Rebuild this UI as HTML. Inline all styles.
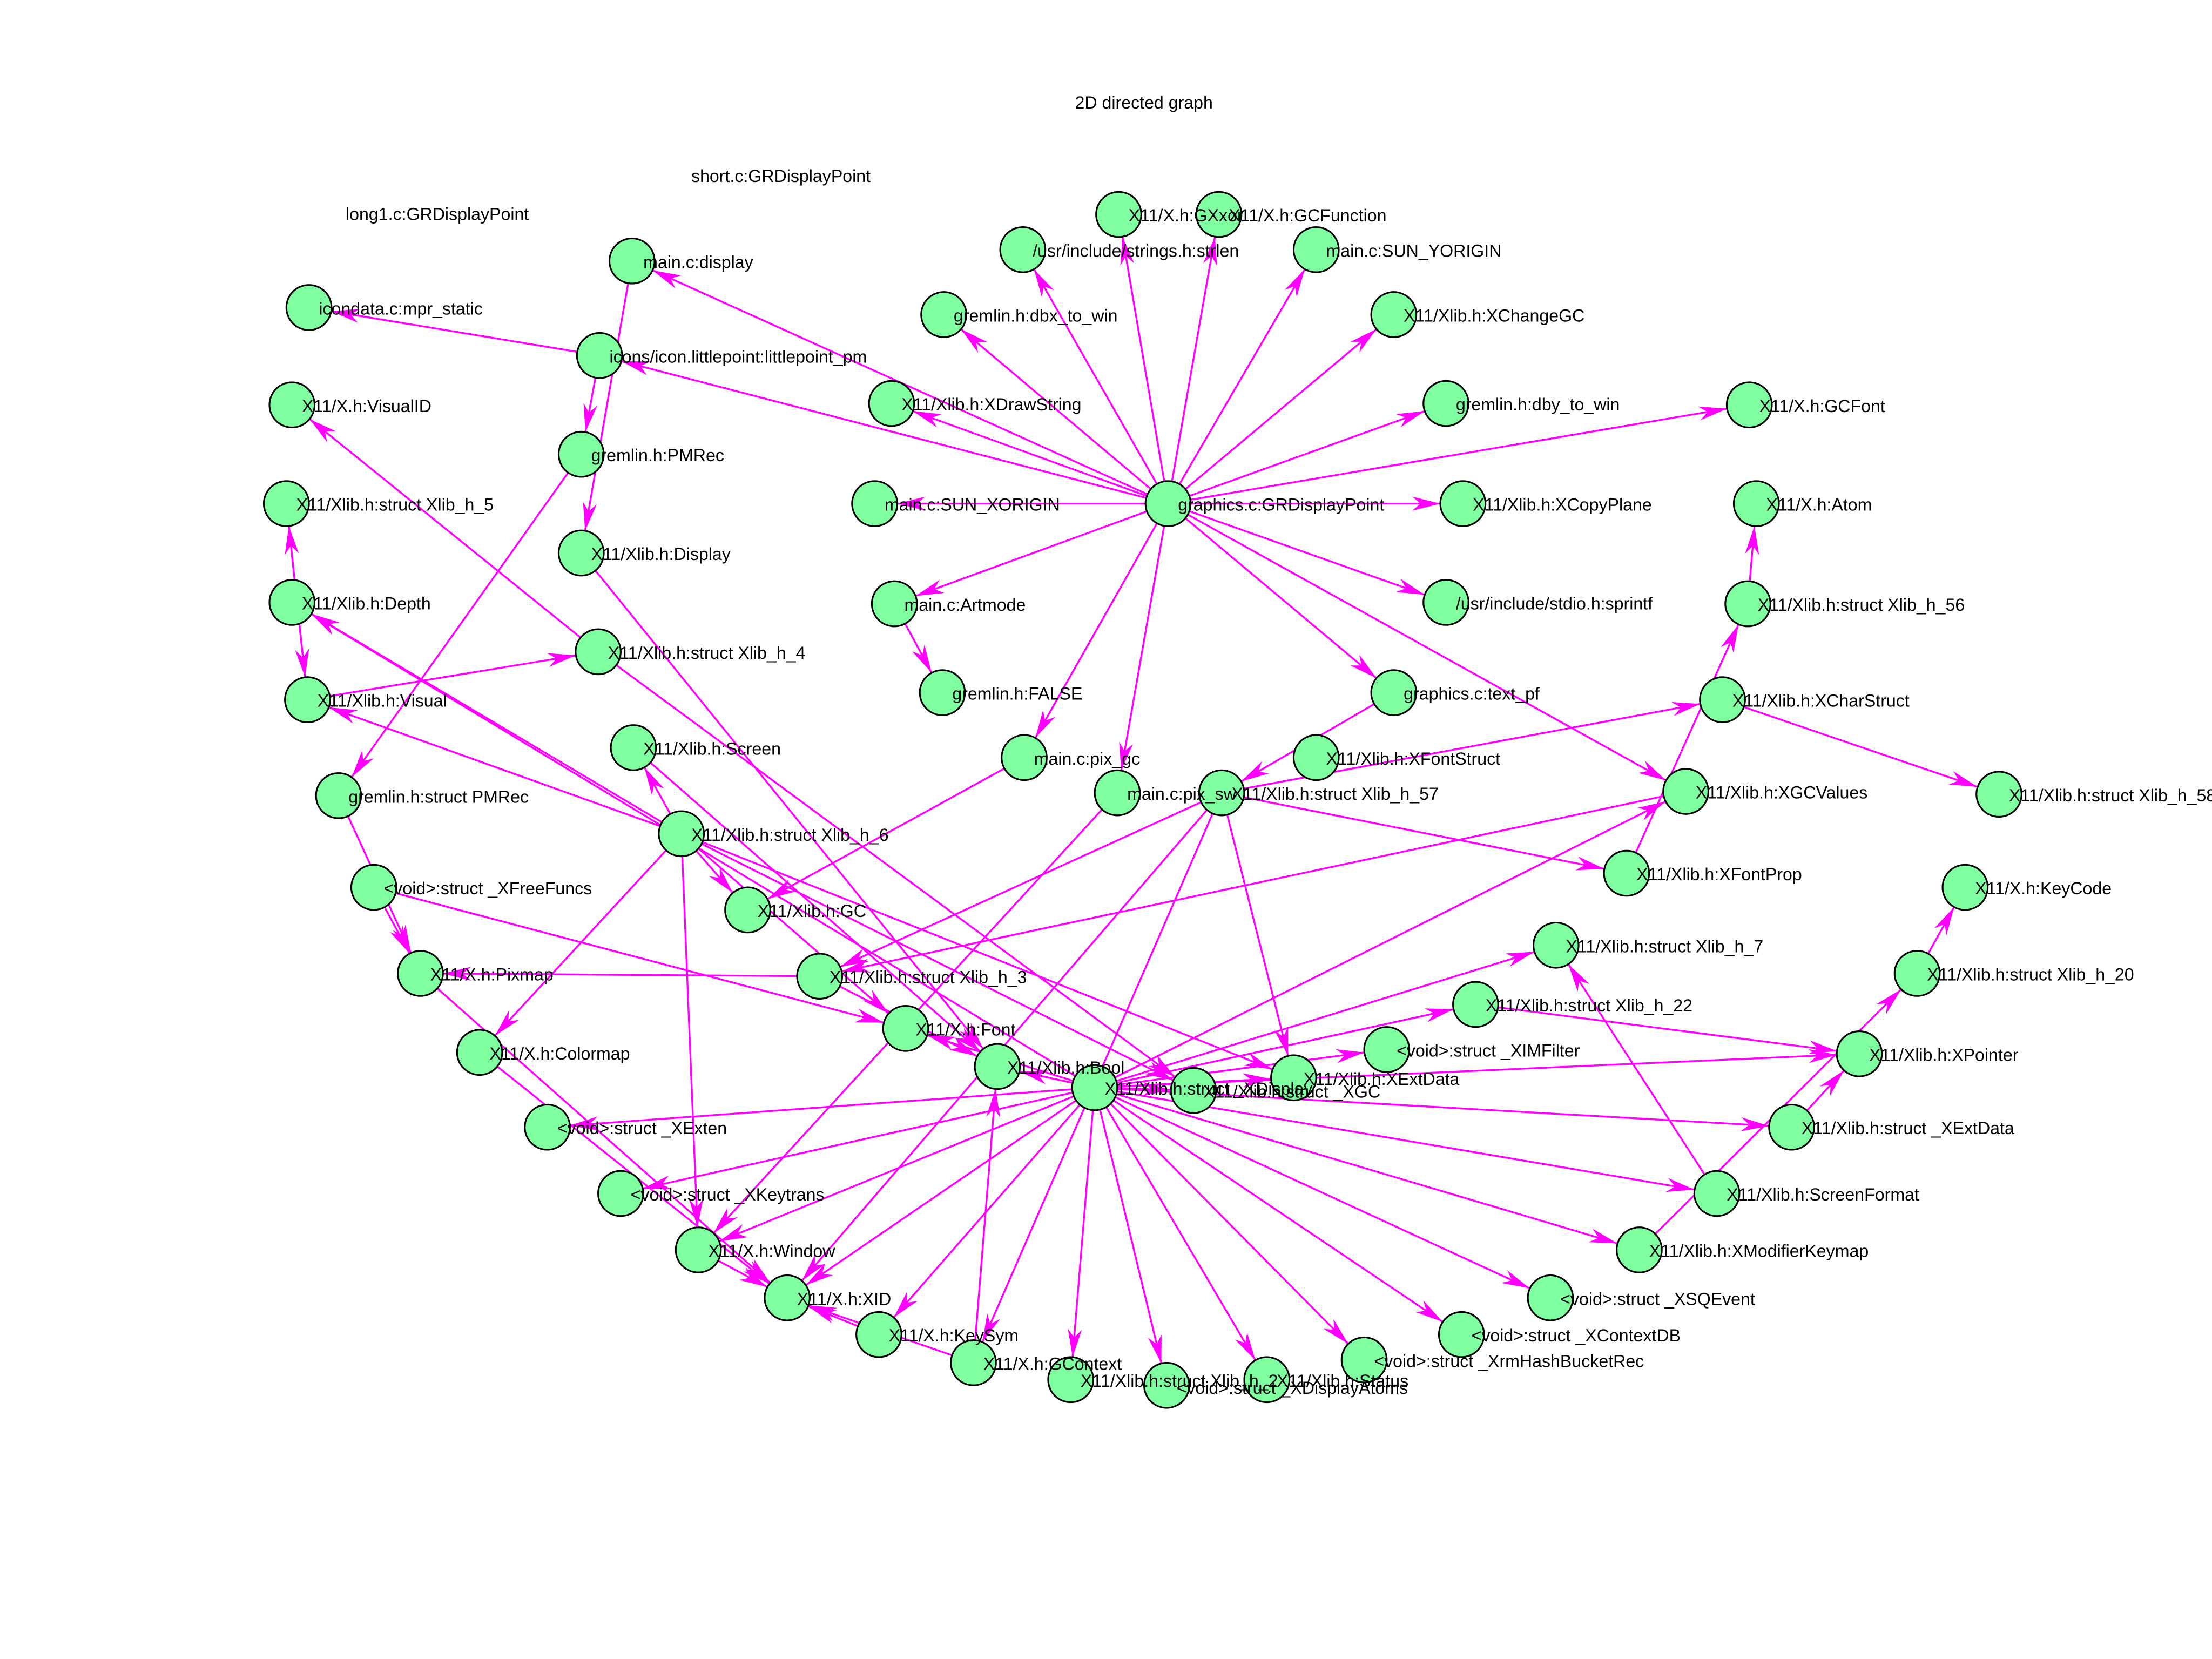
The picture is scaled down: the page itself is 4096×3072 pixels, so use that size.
<!DOCTYPE html>
<html><head><meta charset="utf-8"><style>
html,body{margin:0;padding:0;background:#fff;width:4096px;height:3072px;overflow:hidden}
svg{display:block}
text{font-family:"Liberation Sans",sans-serif;font-size:12.3px;fill:#000}
line{stroke:#ff00ff;stroke-width:1.3}
circle{fill:#80ffa0;stroke:#000;stroke-width:1.2}
</style></head><body>
<svg width="4096" height="3072" viewBox="0 0 1568 1176" xmlns="http://www.w3.org/2000/svg">
<defs><marker id="a" markerUnits="userSpaceOnUse" markerWidth="44" markerHeight="12" refX="36" refY="5" orient="auto"><path d="M0,0 L20,5 L0,10 L6,5 z" fill="#ff00ff"/></marker></defs>
<text x="762" y="77">2D directed graph</text>
<text x="490" y="129">short.c:GRDisplayPoint</text>
<text x="245" y="156">long1.c:GRDisplayPoint</text>
<g marker-end="url(#a)">
<line x1="828" y1="357" x2="725" y2="177"/><line x1="828" y1="357" x2="793" y2="152"/><line x1="828" y1="357" x2="864" y2="152"/><line x1="828" y1="357" x2="933" y2="177"/><line x1="828" y1="357" x2="988" y2="223"/><line x1="828" y1="357" x2="1025" y2="286"/><line x1="828" y1="357" x2="1240" y2="287"/><line x1="828" y1="357" x2="1037" y2="357"/><line x1="828" y1="357" x2="1025" y2="427"/><line x1="828" y1="357" x2="988" y2="491"/><line x1="828" y1="357" x2="1195" y2="561"/><line x1="828" y1="357" x2="792" y2="562"/><line x1="828" y1="357" x2="726" y2="537"/><line x1="828" y1="357" x2="634" y2="428"/><line x1="828" y1="357" x2="620" y2="357"/><line x1="828" y1="357" x2="632" y2="286"/><line x1="828" y1="357" x2="669" y2="223"/><line x1="828" y1="357" x2="448" y2="185"/><line x1="828" y1="357" x2="425" y2="252"/><line x1="425" y1="252" x2="219" y2="218"/>
<line x1="634" y1="428" x2="668" y2="491"/>
<line x1="425" y1="252" x2="412" y2="322"/><line x1="448" y1="185" x2="412" y2="392"/><line x1="412" y1="322" x2="240" y2="564"/><line x1="240" y1="564" x2="298" y2="690"/><line x1="412" y1="392" x2="707" y2="756"/><line x1="424" y1="462" x2="207" y2="287"/><line x1="203" y1="357" x2="218" y2="496"/><line x1="218" y1="496" x2="203" y2="357"/><line x1="218" y1="496" x2="424" y2="462"/><line x1="424" y1="462" x2="846" y2="773"/>
<line x1="483" y1="591" x2="207" y2="427"/><line x1="483" y1="591" x2="218" y2="496"/><line x1="483" y1="591" x2="449" y2="530"/><line x1="483" y1="591" x2="530" y2="645"/><line x1="483" y1="591" x2="642" y2="729"/><line x1="483" y1="591" x2="917" y2="764"/><line x1="483" y1="591" x2="340" y2="746"/><line x1="483" y1="591" x2="495" y2="886"/><line x1="483" y1="591" x2="846" y2="773"/>
<line x1="449" y1="530" x2="707" y2="756"/><line x1="265" y1="629" x2="298" y2="690"/><line x1="265" y1="629" x2="642" y2="729"/><line x1="581" y1="692" x2="298" y2="690"/><line x1="298" y1="690" x2="558" y2="920"/><line x1="340" y1="746" x2="558" y2="920"/><line x1="581" y1="692" x2="707" y2="756"/><line x1="726" y1="537" x2="530" y2="645"/>
<line x1="792" y1="562" x2="495" y2="886"/><line x1="866" y1="562" x2="690" y2="966"/><line x1="866" y1="562" x2="558" y2="920"/><line x1="988" y1="491" x2="866" y2="562"/><line x1="866" y1="562" x2="1221" y2="496"/><line x1="866" y1="562" x2="1153" y2="619"/><line x1="866" y1="562" x2="917" y2="764"/><line x1="866" y1="562" x2="581" y2="692"/><line x1="1221" y1="496" x2="1417" y2="563"/><line x1="1153" y1="619" x2="1239" y2="428"/><line x1="1239" y1="428" x2="1245" y2="357"/><line x1="1195" y1="561" x2="581" y2="692"/>
<line x1="776" y1="771" x2="707" y2="756"/><line x1="776" y1="771" x2="642" y2="729"/><line x1="776" y1="771" x2="388" y2="799"/><line x1="776" y1="771" x2="440" y2="846"/><line x1="776" y1="771" x2="495" y2="886"/><line x1="776" y1="771" x2="558" y2="920"/><line x1="776" y1="771" x2="623" y2="946"/><line x1="776" y1="771" x2="759" y2="978"/><line x1="776" y1="771" x2="827" y2="982"/><line x1="776" y1="771" x2="898" y2="978"/><line x1="776" y1="771" x2="967" y2="964"/><line x1="776" y1="771" x2="1036" y2="946"/><line x1="776" y1="771" x2="1099" y2="920"/><line x1="776" y1="771" x2="1162" y2="886"/><line x1="776" y1="771" x2="1217" y2="846"/><line x1="776" y1="771" x2="1270" y2="799"/><line x1="776" y1="771" x2="1318" y2="747"/><line x1="776" y1="771" x2="1046" y2="712"/><line x1="776" y1="771" x2="983" y2="744"/><line x1="776" y1="771" x2="917" y2="764"/><line x1="776" y1="771" x2="1103" y2="670"/><line x1="776" y1="771" x2="846" y2="773"/><line x1="776" y1="771" x2="1195" y2="561"/><line x1="776" y1="771" x2="207" y2="427"/>
<line x1="690" y1="966" x2="707" y2="756"/><line x1="690" y1="966" x2="558" y2="920"/><line x1="495" y1="886" x2="558" y2="920"/><line x1="623" y1="946" x2="558" y2="920"/>
<line x1="1217" y1="846" x2="1103" y2="670"/><line x1="1046" y1="712" x2="1318" y2="747"/><line x1="1270" y1="799" x2="1318" y2="747"/><line x1="1162" y1="886" x2="1359" y2="690"/><line x1="1359" y1="690" x2="1393" y2="629"/>
</g>
<g>
<circle cx="448" cy="185" r="16"/><circle cx="219" cy="218" r="16"/><circle cx="425" cy="252" r="16"/><circle cx="207" cy="287" r="16"/><circle cx="412" cy="322" r="16"/><circle cx="203" cy="357" r="16"/><circle cx="412" cy="392" r="16"/><circle cx="207" cy="427" r="16"/><circle cx="424" cy="462" r="16"/><circle cx="218" cy="496" r="16"/><circle cx="449" cy="530" r="16"/><circle cx="240" cy="564" r="16"/><circle cx="483" cy="591" r="16"/><circle cx="265" cy="629" r="16"/><circle cx="530" cy="645" r="16"/><circle cx="298" cy="690" r="16"/><circle cx="581" cy="692" r="16"/><circle cx="642" cy="729" r="16"/><circle cx="340" cy="746" r="16"/><circle cx="707" cy="756" r="16"/><circle cx="776" cy="771" r="16"/><circle cx="846" cy="773" r="16"/><circle cx="917" cy="764" r="16"/><circle cx="388" cy="799" r="16"/><circle cx="440" cy="846" r="16"/><circle cx="495" cy="886" r="16"/><circle cx="558" cy="920" r="16"/><circle cx="623" cy="946" r="16"/><circle cx="690" cy="966" r="16"/><circle cx="759" cy="978" r="16"/><circle cx="827" cy="982" r="16"/><circle cx="898" cy="978" r="16"/><circle cx="967" cy="964" r="16"/><circle cx="1036" cy="946" r="16"/><circle cx="1099" cy="920" r="16"/><circle cx="1162" cy="886" r="16"/><circle cx="1217" cy="846" r="16"/><circle cx="1270" cy="799" r="16"/><circle cx="1318" cy="747" r="16"/><circle cx="1359" cy="690" r="16"/><circle cx="1393" cy="629" r="16"/><circle cx="1103" cy="670" r="16"/><circle cx="1046" cy="712" r="16"/><circle cx="983" cy="744" r="16"/><circle cx="1153" cy="619" r="16"/><circle cx="1195" cy="561" r="16"/><circle cx="1417" cy="563" r="16"/><circle cx="1221" cy="496" r="16"/><circle cx="1239" cy="428" r="16"/><circle cx="1245" cy="357" r="16"/><circle cx="1240" cy="287" r="16"/><circle cx="1037" cy="357" r="16"/><circle cx="1025" cy="427" r="16"/><circle cx="988" cy="491" r="16"/><circle cx="933" cy="537" r="16"/><circle cx="866" cy="562" r="16"/><circle cx="792" cy="562" r="16"/><circle cx="726" cy="537" r="16"/><circle cx="668" cy="491" r="16"/><circle cx="634" cy="428" r="16"/><circle cx="620" cy="357" r="16"/><circle cx="632" cy="286" r="16"/><circle cx="669" cy="223" r="16"/><circle cx="725" cy="177" r="16"/><circle cx="793" cy="152" r="16"/><circle cx="864" cy="152" r="16"/><circle cx="933" cy="177" r="16"/><circle cx="988" cy="223" r="16"/><circle cx="1025" cy="286" r="16"/><circle cx="828" cy="357" r="16"/>
</g>
<g>
<text x="456" y="190">main.c:display</text>
<text x="226" y="223">icondata.c:mpr_static</text>
<text x="432" y="257">icons/icon.littlepoint:littlepoint_pm</text>
<text x="214" y="292">X11/X.h:VisualID</text>
<text x="419" y="327">gremlin.h:PMRec</text>
<text x="210" y="362">X11/Xlib.h:struct Xlib_h_5</text>
<text x="419" y="397">X11/Xlib.h:Display</text>
<text x="214" y="432">X11/Xlib.h:Depth</text>
<text x="431" y="467">X11/Xlib.h:struct Xlib_h_4</text>
<text x="225" y="501">X11/Xlib.h:Visual</text>
<text x="456" y="535">X11/Xlib.h:Screen</text>
<text x="247" y="569">gremlin.h:struct PMRec</text>
<text x="490" y="596">X11/Xlib.h:struct Xlib_h_6</text>
<text x="272" y="634">&lt;void&gt;:struct _XFreeFuncs</text>
<text x="537" y="650">X11/Xlib.h:GC</text>
<text x="305" y="695">X11/X.h:Pixmap</text>
<text x="588" y="697">X11/Xlib.h:struct Xlib_h_3</text>
<text x="649" y="734">X11/X.h:Font</text>
<text x="347" y="751">X11/X.h:Colormap</text>
<text x="714" y="761">X11/Xlib.h:Bool</text>
<text x="783" y="776">X11/Xlib.h:struct _XDisplay</text>
<text x="853" y="778">X11/Xlib.h:struct _XGC</text>
<text x="924" y="769">X11/Xlib.h:XExtData</text>
<text x="395" y="804">&lt;void&gt;:struct _XExten</text>
<text x="447" y="851">&lt;void&gt;:struct _XKeytrans</text>
<text x="502" y="891">X11/X.h:Window</text>
<text x="565" y="925">X11/X.h:XID</text>
<text x="630" y="951">X11/X.h:KeySym</text>
<text x="697" y="971">X11/X.h:GContext</text>
<text x="766" y="983">X11/Xlib.h:struct Xlib_h_2</text>
<text x="834" y="988">&lt;void&gt;:struct _XDisplayAtoms</text>
<text x="905" y="983">X11/Xlib.h:Status</text>
<text x="974" y="969">&lt;void&gt;:struct _XrmHashBucketRec</text>
<text x="1043" y="951">&lt;void&gt;:struct _XContextDB</text>
<text x="1106" y="925">&lt;void&gt;:struct _XSQEvent</text>
<text x="1169" y="891">X11/Xlib.h:XModifierKeymap</text>
<text x="1224" y="851">X11/Xlib.h:ScreenFormat</text>
<text x="1277" y="804">X11/Xlib.h:struct _XExtData</text>
<text x="1325" y="752">X11/Xlib.h:XPointer</text>
<text x="1366" y="695">X11/Xlib.h:struct Xlib_h_20</text>
<text x="1400" y="634">X11/X.h:KeyCode</text>
<text x="1110" y="675">X11/Xlib.h:struct Xlib_h_7</text>
<text x="1053" y="717">X11/Xlib.h:struct Xlib_h_22</text>
<text x="990" y="749">&lt;void&gt;:struct _XIMFilter</text>
<text x="1160" y="624">X11/Xlib.h:XFontProp</text>
<text x="1202" y="566">X11/Xlib.h:XGCValues</text>
<text x="1424" y="568">X11/Xlib.h:struct Xlib_h_58</text>
<text x="1228" y="501">X11/Xlib.h:XCharStruct</text>
<text x="1246" y="433">X11/Xlib.h:struct Xlib_h_56</text>
<text x="1252" y="362">X11/X.h:Atom</text>
<text x="1247" y="292">X11/X.h:GCFont</text>
<text x="1044" y="362">X11/Xlib.h:XCopyPlane</text>
<text x="1032" y="432">/usr/include/stdio.h:sprintf</text>
<text x="995" y="496">graphics.c:text_pf</text>
<text x="940" y="542">X11/Xlib.h:XFontStruct</text>
<text x="873" y="567">X11/Xlib.h:struct Xlib_h_57</text>
<text x="799" y="567">main.c:pix_sw</text>
<text x="733" y="542">main.c:pix_gc</text>
<text x="675" y="496">gremlin.h:FALSE</text>
<text x="641" y="433">main.c:Artmode</text>
<text x="627" y="362">main.c:SUN_XORIGIN</text>
<text x="639" y="291">X11/Xlib.h:XDrawString</text>
<text x="676" y="228">gremlin.h:dbx_to_win</text>
<text x="732" y="182">/usr/include/strings.h:strlen</text>
<text x="800" y="157">X11/X.h:GXxor</text>
<text x="871" y="157">X11/X.h:GCFunction</text>
<text x="940" y="182">main.c:SUN_YORIGIN</text>
<text x="995" y="228">X11/Xlib.h:XChangeGC</text>
<text x="1032" y="291">gremlin.h:dby_to_win</text>
<text x="835" y="362">graphics.c:GRDisplayPoint</text>
</g>
</svg>
</body></html>
